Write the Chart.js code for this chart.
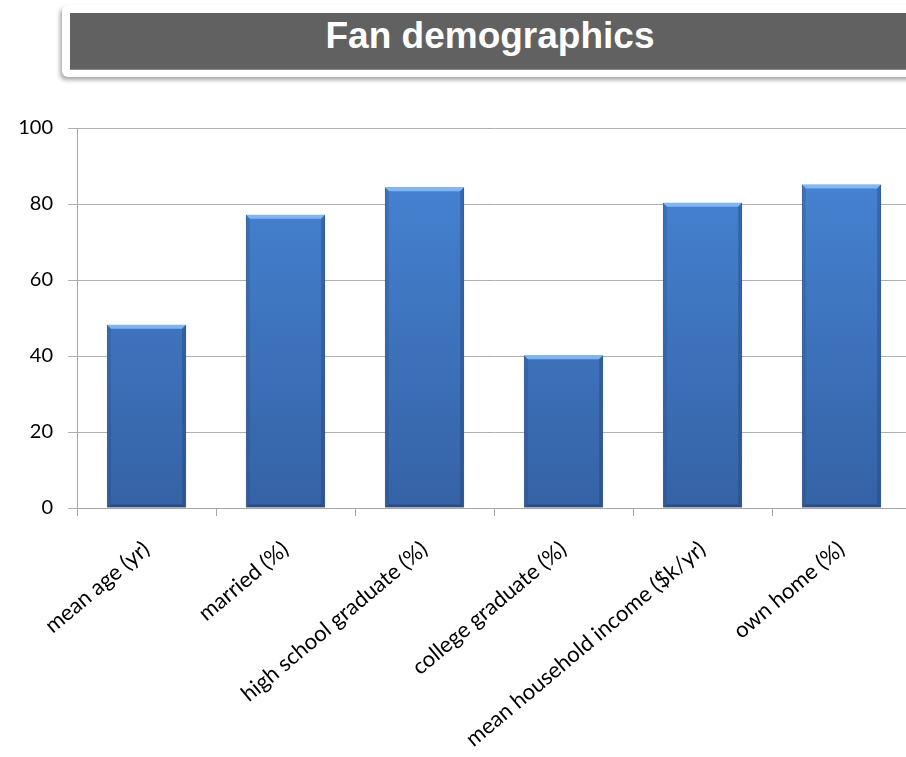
<!DOCTYPE html>
<html lang="en">
<head>
    <meta charset="UTF-8">
    <title>Fan demographics</title>
    <style>
        body { margin: 0; background: #fff; overflow: hidden; width: 906px; height: 757px; position: relative; }
        .titulo_frame {
            position: absolute; left: 62px; top: 5px; width: 880px; height: 72px;
            background: #fff; border-radius: 6px;
            box-shadow: -2px 3px 4px rgba(0,0,0,0.35);
        }
        .titulo_box {
            position: absolute; left: 8px; top: 8px; width: 860px; height: 56px;
            background: #616161; border-bottom: 1px solid #8a8a8a;
        }
        .titulo_box h1 {
            position: absolute; left: 0; width: 840px; top: 0; margin: 0;
            font-family: "Liberation Sans", Arial, sans-serif; font-weight: bold;
            font-size: 37px; line-height: 46px; color: #fff; text-align: center;
        }
        .div_grafico { position: absolute; left: 0; top: 0; width: 930px; height: 757px; }
    </style>
</head>
<body>
    <div class="div_grafico">
        <canvas id="myChart" width="930" height="757"></canvas>
    </div>
    <div class="titulo_frame">
        <div class="titulo_box"><h1>Fan demographics</h1></div>
    </div>

<script src="https://cdn.jsdelivr.net/npm/chart.js"></script>
<script>
    var categorias = ['mean age (yr)', 'married (%)', 'high school graduate (%)', 'college graduate (%)', 'mean household income ($k/yr)', 'own home (%)'];
    var valores = [48.2, 77.2, 84.4, 40.2, 80.3, 85.1];
    var ticksY = [0, 20, 40, 60, 80, 100];

    // gradiente azul das barras (claro em cima, escuro embaixo)
    function corBarra(context) {
        const chart = context.chart;
        const area = chart.chartArea;
        if (!area) return '#3f78c4';
        const g = chart.ctx.createLinearGradient(0, area.top, 0, area.bottom);
        g.addColorStop(0, '#4787d8');
        g.addColorStop(1, '#3562a5');
        return g;
    }

    // efeito de bisel nas barras, usando a posicao dos elementos do proprio chart
    const bisel = {
        id: 'bisel',
        afterDatasetsDraw(chart) {
            const ctx = chart.ctx;
            chart.getDatasetMeta(0).data.forEach(function (bar) {
                const l = bar.x - bar.width / 2, r = bar.x + bar.width / 2;
                const t = bar.y, b = bar.base;
                ctx.save();
                // faixa clara no topo
                ctx.fillStyle = 'rgba(140,190,245,0.85)';
                ctx.beginPath();
                ctx.moveTo(l, t); ctx.lineTo(r, t); ctx.lineTo(r - 4, t + 4); ctx.lineTo(l + 4, t + 4); ctx.closePath();
                ctx.fill();
                // laterais escuras
                ctx.fillStyle = 'rgba(30,60,110,0.35)';
                ctx.beginPath();
                ctx.moveTo(r, t); ctx.lineTo(r, b); ctx.lineTo(r - 4, b - 3); ctx.lineTo(r - 4, t + 4); ctx.closePath();
                ctx.fill();
                ctx.fillStyle = 'rgba(30,60,110,0.2)';
                ctx.beginPath();
                ctx.moveTo(l, t); ctx.lineTo(l, b); ctx.lineTo(l + 4, b - 3); ctx.lineTo(l + 4, t + 4); ctx.closePath();
                ctx.fill();
                // base escura
                ctx.fillStyle = 'rgba(25,50,95,0.45)';
                ctx.beginPath();
                ctx.moveTo(l, b); ctx.lineTo(r, b); ctx.lineTo(r - 4, b - 3); ctx.lineTo(l + 4, b - 3); ctx.closePath();
                ctx.fill();
                ctx.restore();
            });
        }
    };

    const ctx = document.getElementById('myChart');
    new Chart(ctx, {
        type: 'bar',
        data: {
            labels: categorias,
            datasets: [{
                data: valores,
                backgroundColor: corBarra,
                borderColor: '#2f5b98',
                borderWidth: 1,
                categoryPercentage: 1,
                barPercentage: 0.57
            }]
        },
        options: {
            responsive: false,
            animation: false,
            devicePixelRatio: 1,
            layout: { padding: { top: 128, right: 19, bottom: 0, left: 0 } },
            scales: {
                x: {
                    offset: true,
                    afterFit: function (scale) { scale.height = 249; },
                    grid: {
                        offset: true,
                        drawOnChartArea: false,
                        color: '#a6a6a6',
                        tickLength: 8
                    },
                    border: { color: '#a6a6a6' },
                    ticks: {
                        minRotation: 40,
                        maxRotation: 40,
                        autoSkip: false,
                        padding: 20,
                        color: '#000',
                        font: { family: 'Lato', size: 22 }
                    }
                },
                y: {
                    min: 0,
                    max: 100,
                    afterFit: function (scale) { scale.width = 77; },
                    afterBuildTicks: function (scale) { scale.ticks = ticksY.map(v => ({ value: v })); },
                    grid: { color: '#b0b0b0', tickLength: 9 },
                    border: { color: '#a6a6a6' },
                    ticks: {
                        padding: 15,
                        color: '#000',
                        font: { family: 'Lato', size: 20 }
                    }
                }
            },
            plugins: {
                legend: { display: false },
                title: { display: false },
                tooltip: { enabled: false }
            }
        },
        plugins: [bisel]
    });
</script>
</body>
</html>
